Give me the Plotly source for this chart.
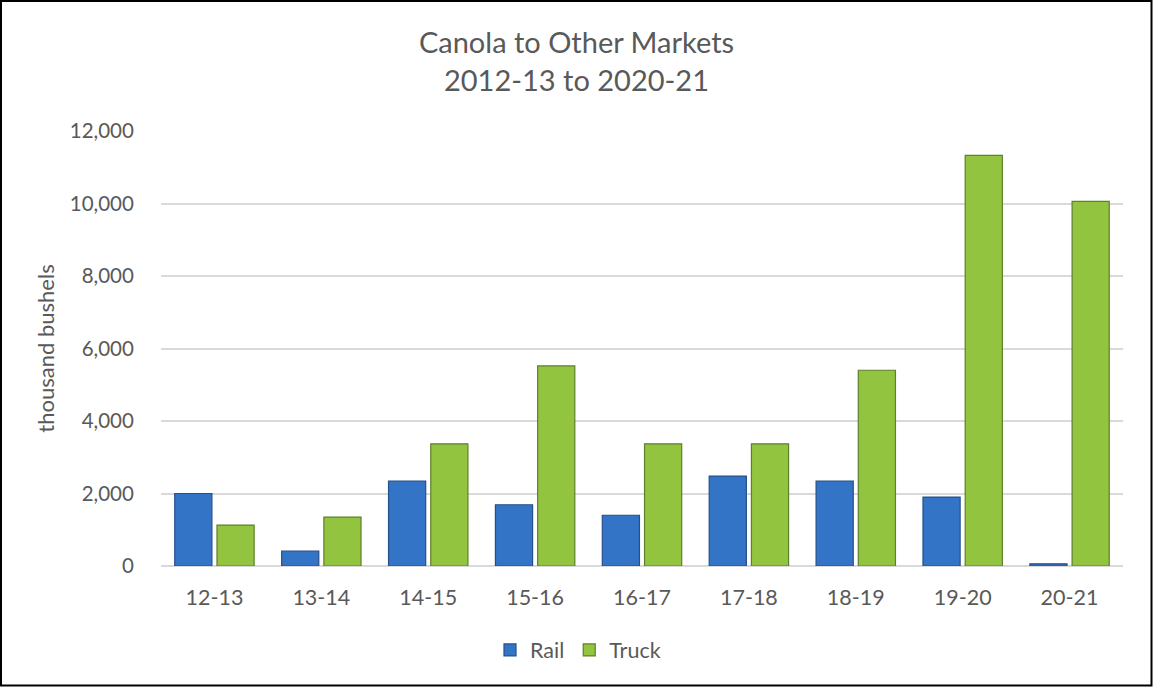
import plotly.graph_objects as go

seasons = ["12-13", "13-14", "14-15", "15-16", "16-17", "17-18", "18-19", "19-20", "20-21"]
rail = [2000, 410, 2340, 1690, 1400, 2480, 2340, 1900, 60]
truck = [1130, 1350, 3370, 5520, 3370, 3370, 5400, 11330, 10060]
y_ticks = [0, 2000, 4000, 6000, 8000, 10000, 12000]

W, H = 1153, 687
ML, MR, MT, MB = 161, 30, 131, 121
PW, PH = W - ML - MR, H - MT - MB

font = "Lato, 'Open Sans', sans-serif"
grey = "#595959"

fig = go.Figure()
fig.add_trace(go.Bar(
    x=seasons, y=rail, name="Rail",
    marker=dict(color="#3474C6", line=dict(color="#24508A", width=1.2)),
))
fig.add_trace(go.Bar(
    x=seasons, y=truck, name="Truck",
    marker=dict(color="#93C43F", line=dict(color="#5F7F2A", width=1.2)),
))

fig.update_layout(
    width=W, height=H,
    margin=dict(l=ML, r=MR, t=MT, b=MB),
    paper_bgcolor="white", plot_bgcolor="white",
    barmode="group", bargap=0.21, bargroupgap=0.12,
    font=dict(family=font, color=grey, size=21),
    title=dict(
        text="Canola to Other Markets<br>2012-13 to 2020-21",
        x=0.5, xref="container", xanchor="center",
        y=1 - 53 / H, yanchor="middle",
        font=dict(family=font, size=29, color=grey),
    ),
    xaxis=dict(
        showgrid=False, showline=False, zeroline=False,
        ticks="outside", ticklen=12, tickcolor="rgba(0,0,0,0)",
        tickfont=dict(size=21.5, color=grey),
    ),
    yaxis=dict(
        range=[0, 12000], tickvals=y_ticks, tickformat=",d",
        showgrid=True, gridcolor="#D9D9D9", gridwidth=1.5,
        zeroline=True, zerolinecolor="#D9D9D9", zerolinewidth=1.5,
        showline=False,
        ticks="outside", ticklen=22, tickcolor="rgba(0,0,0,0)",
        tickfont=dict(size=20.5, color=grey),
        title=dict(text="thousand bushels", font=dict(size=22, color=grey), standoff=9),
    ),
    legend=dict(
        orientation="h", x=(578 - ML) / PW, xanchor="center",
        y=-(650 - 566) / PH, yanchor="middle",
        font=dict(size=21.5, color=grey),
        itemwidth=30,
    ),
    shapes=[dict(
        type="rect", xref="paper", yref="paper",
        x0=-(ML - 1) / PW, x1=1 + (MR - 1.5) / PW,
        y0=-(MB - 1.5) / PH, y1=1 + (MT - 1) / PH,
        line=dict(color="black", width=2), fillcolor="rgba(0,0,0,0)",
        layer="above",
    )],
)

fig.write_html("out.html", config={"displayModeBar": False},
               post_script="document.body.style.margin='0';")
